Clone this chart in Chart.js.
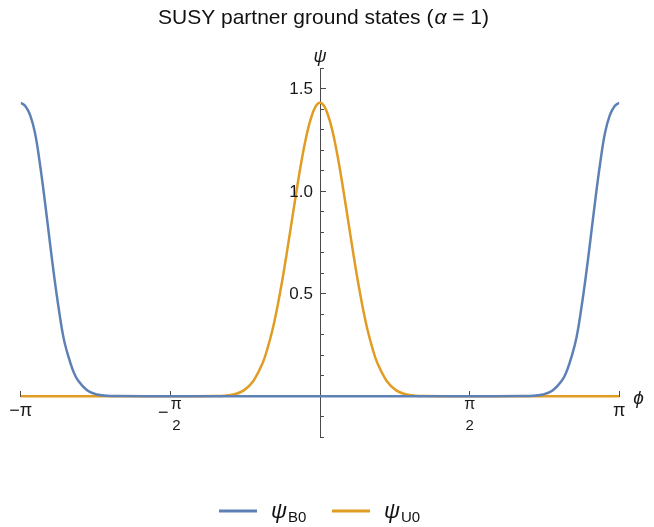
<!DOCTYPE html>
<html>
<head>
  <meta charset="UTF-8">
  <title>SUSY partner ground states</title>
  <script src="https://cdn.jsdelivr.net/npm/chart.js"></script>
  <style>
    body {
      margin: 0;
      background: #fff;
    }
    canvas {
      display: block;
    }
  </style>
</head>
<body>
  <canvas id="psiChart" width="654" height="527"></canvas>

  <script>
    // psi_B0: peaks at the ends (phi = -pi, pi)
    const phiB = [-3.1416, -3.0916, -3.0416, -2.9916, -2.9416, -2.8916, -2.8416, -2.7916, -2.7416,
                  -2.6916, -2.6416, -2.5916, -2.5416, -2.4416, -2.3416, -2.2416, -2.1416, -1.5,
                  0,
                  1.5, 2.1416, 2.2416, 2.3416, 2.4416, 2.5416, 2.5916, 2.6416, 2.6916,
                  2.7416, 2.7916, 2.8416, 2.8916, 2.9416, 2.9916, 3.0416, 3.0916, 3.1416];
    const psiB = [1.432, 1.415, 1.37, 1.285, 1.14, 0.965, 0.775, 0.59, 0.425,
                  0.285, 0.195, 0.125, 0.078, 0.028, 0.009, 0.003, 0.001, 0,
                  0,
                  0, 0.001, 0.003, 0.009, 0.028, 0.078, 0.125, 0.195, 0.285,
                  0.425, 0.59, 0.775, 0.965, 1.14, 1.285, 1.37, 1.415, 1.432];

    // psi_U0: single peak at phi = 0
    const phiU = [-3.1416, -1.5, -1.1, -1.0, -0.9, -0.8, -0.7, -0.6, -0.55, -0.5, -0.45, -0.4,
                  -0.35, -0.3, -0.25, -0.2, -0.15, -0.1, -0.05,
                  0,
                  0.05, 0.1, 0.15, 0.2, 0.25, 0.3, 0.35,
                  0.4, 0.45, 0.5, 0.55, 0.6, 0.7, 0.8, 0.9, 1.0, 1.1, 1.5, 3.1416];
    const psiU = [0, 0, 0.001, 0.003, 0.01, 0.029, 0.075, 0.165, 0.235, 0.322, 0.43, 0.555,
                  0.695, 0.843, 0.991, 1.132, 1.254, 1.348, 1.411,
                  1.432,
                  1.411, 1.348, 1.254, 1.132, 0.991, 0.843, 0.695,
                  0.555, 0.43, 0.322, 0.235, 0.165, 0.075, 0.029, 0.01, 0.003, 0.001, 0, 0];

    const xTicks = [-Math.PI, -Math.PI / 2, Math.PI / 2, Math.PI];
    const xTickLabels = [['−', 'π', ''], ['−', 'π', '2'], ['', 'π', '2'], ['', 'π', '']];
    const yTicks = [0.5, 1.0, 1.5];
    const yTickLabels = ['0.5', '1.0', '1.5'];
    const yMinorTicks = [-0.2, -0.1, 0.1, 0.2, 0.3, 0.4, 0.6, 0.7, 0.8, 0.9, 1.1, 1.2, 1.3, 1.4, 1.6];

    const seriesNames = ['B0', 'U0'];
    const colors = ['#5E81B5', '#E19C24'];
    const axisColor = '#4a4a4a';
    const font = '"Liberation Sans", Arial, sans-serif';

    const toPoints = (xs, ys) => xs.map((x, i) => ({ x: x, y: ys[i] }));

    // tick labels, axis labels, title and legend drawn at the scale positions
    const textPlugin = {
      id: 'mathText',
      afterDraw(chart) {
        const ctx = chart.ctx;
        const sx = chart.scales.x;
        const sy = chart.scales.y;
        const x0 = sx.getPixelForValue(0);
        const y0 = sy.getPixelForValue(0);
        ctx.save();
        ctx.fillStyle = '#1a1a1a';

        // y tick labels
        ctx.font = '17px ' + font;
        ctx.textAlign = 'right';
        ctx.textBaseline = 'middle';
        yTicks.forEach((v, i) => {
          ctx.fillText(yTickLabels[i], x0 - 7, sy.getPixelForValue(v) + 1);
        });

        // x tick labels (pi fractions)
        xTicks.forEach((v, i) => {
          const px = sx.getPixelForValue(v);
          const [sign, num, den] = xTickLabels[i];
          if (!den) {
            ctx.font = '18px ' + font;
            ctx.textAlign = 'center';
            ctx.fillText(sign + num, px, y0 + 15);
          } else {
            const cx = sign ? px + 6 : px;
            ctx.font = '16px ' + font;
            ctx.textAlign = 'center';
            ctx.fillText(num, cx, y0 + 8);
            ctx.font = '15px ' + font;
            ctx.fillText(den, cx, y0 + 30);
            if (sign) {
              ctx.font = '18px ' + font;
              ctx.fillText(sign, cx - 13, y0 + 17);
            }
          }
        });

        // axis labels
        ctx.font = 'italic 18px ' + font;
        ctx.textAlign = 'center';
        ctx.fillText('ψ', x0, sy.top - 11);
        ctx.font = 'italic 19px ' + font;
        ctx.textAlign = 'left';
        ctx.fillText('ϕ', sx.right + 14, y0 + 2);

        // title with italic alpha
        ctx.fillStyle = '#111';
        ctx.textBaseline = 'alphabetic';
        const partA = 'SUSY partner ground states (';
        const partC = ' = 1)';
        ctx.font = '21px ' + font;
        const wA = ctx.measureText(partA).width;
        const wC = ctx.measureText(partC).width;
        ctx.font = 'italic 21px ' + font;
        const wB = ctx.measureText('α').width + 1;
        const tx = 323.5 - (wA + wB + wC) / 2;
        ctx.font = '21px ' + font;
        ctx.fillText(partA, tx, 24);
        ctx.font = 'italic 21px ' + font;
        ctx.fillText('α', tx + wA + 1, 24);
        ctx.font = '21px ' + font;
        ctx.fillText(partC, tx + wA + wB, 24);

        // legend
        const legendX = [219, 332];
        chart.data.datasets.forEach((ds, i) => {
          const lx = legendX[i];
          ctx.strokeStyle = ds.borderColor;
          ctx.lineWidth = 3;
          ctx.beginPath();
          ctx.moveTo(lx, 511);
          ctx.lineTo(lx + 38, 511);
          ctx.stroke();
          ctx.fillStyle = '#111';
          ctx.textAlign = 'left';
          ctx.font = 'italic 22px ' + font;
          ctx.fillText('ψ', lx + 52, 518);
          const w = ctx.measureText('ψ').width;
          ctx.font = '15px ' + font;
          ctx.fillText(seriesNames[i], lx + 53 + w, 522);
        });
        ctx.restore();
      }
    };

    new Chart(document.getElementById('psiChart'), {
      type: 'line',
      data: {
        datasets: [{
          label: 'ψB0',
          data: toPoints(phiB, psiB),
          borderColor: colors[0],
          borderWidth: 2.5,
          pointRadius: 0,
          tension: 0.4,
          fill: false
        }, {
          label: 'ψU0',
          data: toPoints(phiU, psiU),
          borderColor: colors[1],
          borderWidth: 2.5,
          pointRadius: 0,
          tension: 0.4,
          fill: false
        }]
      },
      options: {
        responsive: false,
        animation: false,
        layout: {
          padding: { left: 20.7, right: 34.7, top: 68.3, bottom: 89.7 }
        },
        plugins: {
          legend: { display: false },
          title: { display: false },
          tooltip: { enabled: false }
        },
        scales: {
          x: {
            type: 'linear',
            min: -Math.PI,
            max: Math.PI,
            position: { y: 0 },
            z: 1,
            afterBuildTicks: s => { s.ticks = xTicks.map(v => ({ value: v })); },
            afterFit: s => { s.height = 0; },
            ticks: { display: false },
            grid: { drawOnChartArea: false, tickLength: -6, color: axisColor, lineWidth: 1 },
            border: { color: axisColor, width: 1 }
          },
          y: {
            type: 'linear',
            min: -0.2,
            max: 1.6,
            position: { x: 0 },
            z: 1,
            afterBuildTicks: s => { s.ticks = yTicks.map(v => ({ value: v })); },
            afterFit: s => { s.width = 0; },
            ticks: { display: false },
            grid: { drawOnChartArea: false, tickLength: -6, color: axisColor, lineWidth: 1 },
            border: { color: axisColor, width: 1 }
          },
          yMinor: {
            type: 'linear',
            axis: 'y',
            min: -0.2,
            max: 1.6,
            position: { x: 0 },
            z: 1,
            afterBuildTicks: s => { s.ticks = yMinorTicks.map(v => ({ value: v })); },
            afterFit: s => { s.width = 0; },
            ticks: { display: false },
            grid: { drawOnChartArea: false, tickLength: -4, color: axisColor, lineWidth: 1 },
            border: { display: false }
          }
        }
      },
      plugins: [textPlugin]
    });
  </script>
</body>
</html>
